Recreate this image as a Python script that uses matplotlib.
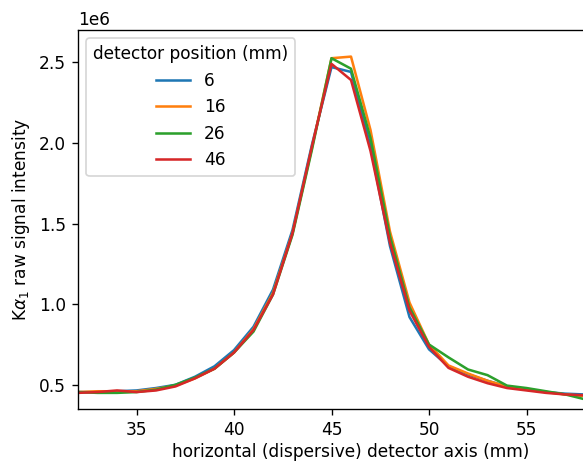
import numpy as np
import matplotlib
matplotlib.use('Agg')
import matplotlib.pyplot as plt

# horizontal detector position (mm) and raw Ka1 intensity per detector position
x_mm = np.arange(32, 61)
positions = ['6', '16', '26', '46']

det6 = [0.455, 0.455, 0.46, 0.465, 0.48, 0.50, 0.55, 0.615, 0.715, 0.86, 1.09, 1.46,
        1.99, 2.47, 2.44, 1.98, 1.36, 0.92, 0.72, 0.615, 0.565, 0.525, 0.49, 0.47, 0.455,
        0.445, 0.44, 0.44, 0.44]
det16 = [0.455, 0.46, 0.46, 0.46, 0.475, 0.495, 0.54, 0.60, 0.70, 0.845, 1.07, 1.44,
         1.97, 2.525, 2.535, 2.08, 1.45, 1.01, 0.75, 0.62, 0.57, 0.525, 0.49, 0.47, 0.455,
         0.44, 0.43, 0.425, 0.42]
det26 = [0.455, 0.45, 0.45, 0.455, 0.47, 0.50, 0.545, 0.60, 0.70, 0.83, 1.06, 1.43,
         1.96, 2.525, 2.46, 2.03, 1.42, 0.98, 0.75, 0.67, 0.595, 0.56, 0.495, 0.48, 0.46,
         0.44, 0.41, 0.40, 0.39]
det46 = [0.45, 0.455, 0.465, 0.455, 0.465, 0.49, 0.54, 0.60, 0.70, 0.84, 1.06, 1.44,
         1.98, 2.49, 2.39, 1.95, 1.38, 0.96, 0.735, 0.605, 0.55, 0.51, 0.48, 0.465, 0.45,
         0.44, 0.435, 0.43, 0.43]

fig = plt.figure(figsize=(583/122, 461/122), dpi=122)
ax = fig.add_axes([78/583, 52/461, 546/583, 379/461])

for lab, vals in zip(positions, [det6, det16, det26, det46]):
    ax.plot(x_mm, np.array(vals) * 1e6, label=lab, lw=1.5)

ax.set_xlim(32, 60)
ax.set_ylim(0.35e6, 2.7e6)
ax.set_xticks([35, 40, 45, 50, 55])
ax.set_yticks([0.5e6, 1.0e6, 1.5e6, 2.0e6, 2.5e6])
ax.set_xlabel('horizontal (dispersive) detector axis (mm)', labelpad=2.5)
ax.set_ylabel(r'K$\alpha_1$ raw signal intensity')
ax.legend(title='detector position (mm)', loc='upper left')

fig.savefig('out.png', dpi=122)
